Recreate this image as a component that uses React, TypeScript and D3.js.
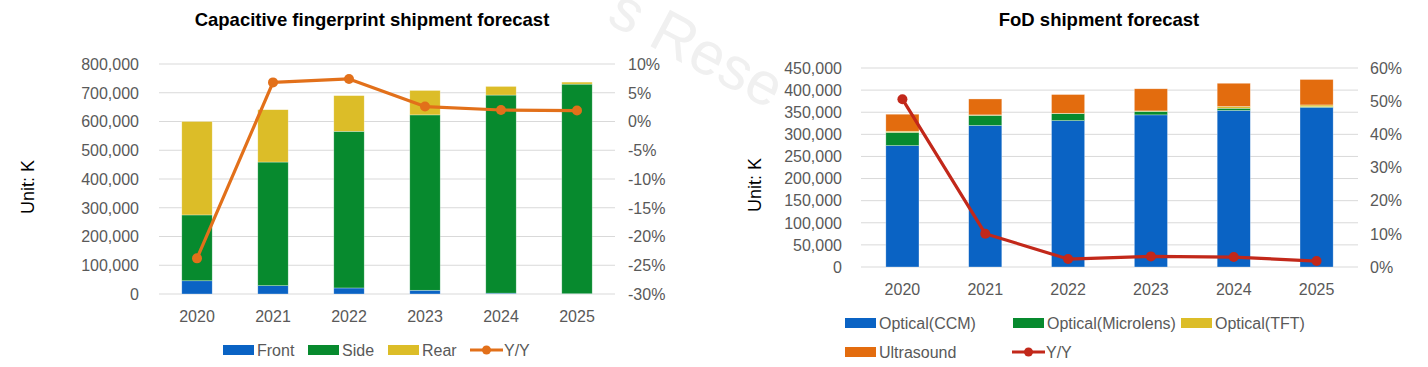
import React from "react";
import * as d3 from "d3";

// ---------- data ----------
const years = ["2020", "2021", "2022", "2023", "2024", "2025"];

// Capacitive fingerprint (K units)
const capFront = [46000, 29000, 21000, 13000, 3000, 1000];
const capSide = [229000, 430000, 545000, 610000, 689000, 729000];
const capRear = [325000, 182000, 124000, 85000, 30000, 7000];
const capYoY = [-0.238, 0.068, 0.074, 0.026, 0.02, 0.019];
const capLeftTicks = [0, 100000, 200000, 300000, 400000, 500000, 600000, 700000, 800000];
const capRightTicks = [-0.3, -0.25, -0.2, -0.15, -0.1, -0.05, 0, 0.05, 0.1];

// FoD (K units)
const fodCCM = [274500, 320000, 331000, 344000, 354000, 361000];
const fodMicro = [30000, 23000, 16000, 8000, 5000, 1500];
const fodTFT = [2500, 1000, 600, 1000, 4000, 4000];
const fodUltra = [38500, 36000, 42400, 50000, 52500, 57500];
const fodYoY = [0.506, 0.1005, 0.024, 0.032, 0.03, 0.018];
const fodLeftTicks = [0, 50000, 100000, 150000, 200000, 250000, 300000, 350000, 400000, 450000];
const fodRightTicks = [0, 0.1, 0.2, 0.3, 0.4, 0.5, 0.6];

const capSeriesNames = ["Front", "Side", "Rear"];
const fodSeriesNames = ["Optical(CCM)", "Optical(Microlens)", "Optical(TFT)", "Ultrasound"];

// ---------- styles ----------
const FONT = "'Liberation Sans', Arial, sans-serif";
const GRAY = "#595959";
const GRID = "#d9d9d9";
const BLUE = "#0a63c4";
const GREEN = "#078a2e";
const YELLOW = "#dcbd28";
const ORANGE_BAR = "#e36c0e";
const ORANGE_LINE = "#e2701a";
const RED_LINE = "#c2281a";

const fmt = d3.format(",");
const pct = (v: number) => `${Math.round(v * 100)}%`;

type StackChartProps = {
  title: string;
  titleX: number;
  series: number[][];
  colors: string[];
  yoy: number[];
  lineColor: string;
  x0: number;
  x1: number;
  yTop: number;
  yBottom: number;
  yMax: number;
  leftTicks: number[];
  rightDomain: [number, number];
  rightTicks: number[];
  leftLabelX: number;
  rightLabelX: number;
  unitX: number;
  unitY: number;
};

function StackChart(p: StackChartProps) {
  const x = d3.scaleBand<string>().domain(years).range([p.x0, p.x1]).paddingInner(0.6).paddingOuter(0.3);
  const y = d3.scaleLinear().domain([0, p.yMax]).range([p.yBottom, p.yTop]);
  const yR = d3.scaleLinear().domain(p.rightDomain).range([p.yBottom, p.yTop]);

  const rows = years.map((yr, i) => {
    const o: any = { year: yr };
    p.series.forEach((s, k) => (o["s" + k] = s[i]));
    return o;
  });
  const keys = p.series.map((_, k) => "s" + k);
  const stacked = d3.stack<any>().keys(keys)(rows);

  const line = d3
    .line<number>()
    .x((_, i) => (x(years[i]) as number) + x.bandwidth() / 2)
    .y((d) => yR(d));

  return (
    <g>
      <text x={p.titleX} y={26} textAnchor="middle" fontFamily={FONT} fontWeight="bold" fontSize={18.5} fill="#000">
        {p.title}
      </text>
      <text
        transform={`translate(${p.unitX},${p.unitY}) rotate(-90)`}
        textAnchor="middle"
        fontFamily={FONT}
        fontSize={18}
        fill="#000"
      >
        Unit: K
      </text>
      {p.leftTicks.map((t) => (
        <g key={"g" + t}>
          <line x1={p.x0} x2={p.x1} y1={y(t)} y2={y(t)} stroke={GRID} strokeWidth={1} />
          <text x={p.leftLabelX} y={y(t)} dy="0.36em" textAnchor="end" fontFamily={FONT} fontSize={16} fill={GRAY}>
            {fmt(t)}
          </text>
        </g>
      ))}
      {p.rightTicks.map((t) => (
        <text key={"r" + t} x={p.rightLabelX} y={yR(t)} dy="0.36em" textAnchor="start" fontFamily={FONT} fontSize={16} fill={GRAY}>
          {pct(t)}
        </text>
      ))}
      {stacked.map((layer, k) => (
        <g key={"l" + k} fill={p.colors[k]}>
          {layer.map((d, i) => (
            <rect
              key={i}
              x={x(years[i])}
              width={x.bandwidth()}
              y={y(d[1])}
              height={Math.max(0, y(d[0]) - y(d[1]))}
              stroke="#ffffff"
              strokeOpacity={0.5}
              strokeWidth={0.6}
            />
          ))}
        </g>
      ))}
      {years.map((yr) => (
        <text
          key={"x" + yr}
          x={(x(yr) as number) + x.bandwidth() / 2}
          y={p.yBottom + 22}
          dy="0.36em"
          textAnchor="middle"
          fontFamily={FONT}
          fontSize={16}
          fill={GRAY}
        >
          {yr}
        </text>
      ))}
      <path d={line(p.yoy) as string} fill="none" stroke={p.lineColor} strokeWidth={3.2} strokeLinejoin="round" />
      {p.yoy.map((v, i) => (
        <circle key={"c" + i} cx={(x(years[i]) as number) + x.bandwidth() / 2} cy={yR(v)} r={5} fill={p.lineColor} />
      ))}
    </g>
  );
}

type LegendItem = { label: string; color: string; kind: "rect" | "line"; x: number; y: number };

function Legend({ items }: { items: LegendItem[] }) {
  return (
    <g>
      {items.map((it) => (
        <g key={it.label + it.x + it.y}>
          {it.kind === "rect" ? (
            <rect x={it.x} y={it.y - 5} width={31} height={10} fill={it.color} />
          ) : (
            <g>
              <line x1={it.x} x2={it.x + 33} y1={it.y} y2={it.y} stroke={it.color} strokeWidth={3.2} />
              <circle cx={it.x + 16.5} cy={it.y} r={4.5} fill={it.color} />
            </g>
          )}
          <text x={it.x + 34} y={it.y} dy="0.36em" fontFamily={FONT} fontSize={16} fill={GRAY}>
            {it.label}
          </text>
        </g>
      ))}
    </g>
  );
}

export default function App() {
  const capLegend: LegendItem[] = [
    { label: capSeriesNames[0], color: BLUE, kind: "rect", x: 223, y: 350 },
    { label: capSeriesNames[1], color: GREEN, kind: "rect", x: 308, y: 350 },
    { label: capSeriesNames[2], color: YELLOW, kind: "rect", x: 388, y: 350 },
    { label: "Y/Y", color: ORANGE_LINE, kind: "line", x: 470, y: 350 },
  ];
  const fodLegend: LegendItem[] = [
    { label: fodSeriesNames[0], color: BLUE, kind: "rect", x: 845, y: 323 },
    { label: fodSeriesNames[1], color: GREEN, kind: "rect", x: 1013, y: 323 },
    { label: fodSeriesNames[2], color: YELLOW, kind: "rect", x: 1181, y: 323 },
    { label: fodSeriesNames[3], color: ORANGE_BAR, kind: "rect", x: 845, y: 352 },
    { label: "Y/Y", color: RED_LINE, kind: "line", x: 1012, y: 352 },
  ];

  return (
    <svg
      width={1428}
      height={367}
      viewBox="0 0 1428 367"
      style={{ position: "absolute", left: 0, top: 0, background: "#fff" }}
    >
      <rect width={1428} height={367} fill="#fff" />
      <text
        transform="translate(605,22) rotate(28)"
        fontFamily={FONT}
        fontSize={60}
        fill="#f0f0f0"
      >
        s Rese
      </text>
      <StackChart
        title="Capacitive fingerprint shipment forecast"
        titleX={372}
        series={[capFront, capSide, capRear]}
        colors={[BLUE, GREEN, YELLOW]}
        yoy={capYoY}
        lineColor={ORANGE_LINE}
        x0={159}
        x1={615}
        yTop={64}
        yBottom={294}
        yMax={800000}
        leftTicks={capLeftTicks}
        rightDomain={[-0.3, 0.1]}
        rightTicks={capRightTicks}
        leftLabelX={139}
        rightLabelX={628}
        unitX={34}
        unitY={187}
      />
      <StackChart
        title="FoD shipment forecast"
        titleX={1099}
        series={[fodCCM, fodMicro, fodTFT, fodUltra]}
        colors={[BLUE, GREEN, YELLOW, ORANGE_BAR]}
        yoy={fodYoY}
        lineColor={RED_LINE}
        x0={861}
        x1={1358}
        yTop={68}
        yBottom={267}
        yMax={450000}
        leftTicks={fodLeftTicks}
        rightDomain={[0, 0.6]}
        rightTicks={fodRightTicks}
        leftLabelX={842}
        rightLabelX={1370}
        unitX={761}
        unitY={185}
      />
      <Legend items={capLegend} />
      <Legend items={fodLegend} />
    </svg>
  );
}
